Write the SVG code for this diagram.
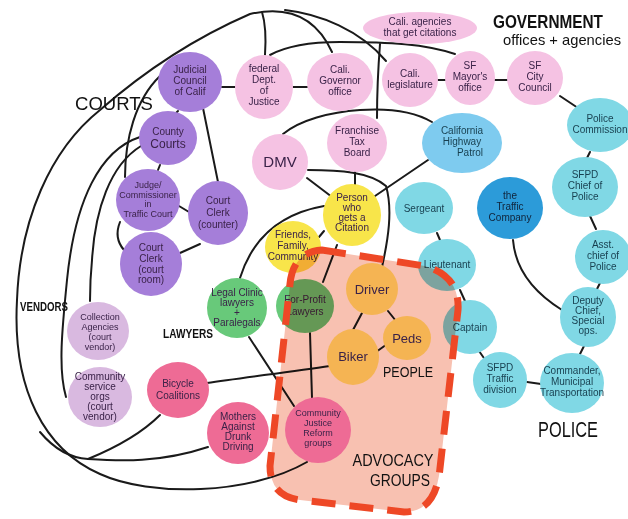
<svg xmlns="http://www.w3.org/2000/svg" width="628" height="519" viewBox="0 0 628 519">
<style>
.bg{fill:#ffffff}
.c path{fill:none;stroke:#1a1a1a;stroke-width:2;stroke-linecap:round}
text{font-family:"Liberation Sans Narrow","Liberation Sans",Arial,sans-serif;text-anchor:middle}
.n text{font-size:10px;fill:#3a2248}
.p text{fill:#173f4f}
.crt{fill:#a57ed9}
.gov{fill:#f5c2e3}
.pol{fill:#80d8e5}
.chp{fill:#7ecbef}
.tc{fill:#2c9bd9}
.yel{fill:#f8e54a}
.grn{fill:#68c97a}
.org{fill:#f5b453}
.adv{fill:#ee6b95}
.ven{fill:#d9b9e0}
.lbl{font-size:18px;fill:#111;font-weight:bold}
.region{fill:#f8c1b1;mix-blend-mode:multiply}
.dash{fill:none;stroke:#ee4826;stroke-width:7;stroke-dasharray:24 14;stroke-linecap:butt}
</style>
<rect class="bg" width="628" height="519"/>
<g id="connectors" class="c">
<path d="M307,462 C250,495 150,497 100,474 C45,450 12,390 17,300 C20,220 50,150 100,110 C140,75 190,40 250,14 C285,6 315,15 332,52"/>
<path d="M262,12 C266,25 266,40 265,55"/>
<path d="M285,10 C320,14 360,30 386,61"/>
<path d="M270,55 C290,44 315,42 340,42 C390,42 425,44 455,54"/>
<path d="M380,44 C378,70 377,95 377,118"/>
<path d="M283,134 C300,120 330,112 360,110 C390,108 415,112 432,122"/>
<path d="M222,87 L235,87"/><path d="M293,87 L307,87"/>
<path d="M437,80 L446,80"/><path d="M495,80 L507,80"/>
<path d="M560,96 L578,108"/><path d="M590,152 L587,158"/>
<path d="M590,216 L596,229"/><path d="M600,283 L597,289"/>
<path d="M584,346 L580,354"/><path d="M527,382 L541,384"/>
<path d="M479,351 L486,361"/>
<path d="M513,240 C515,265 530,290 562,310"/>
<path d="M437,233 L440,240"/><path d="M460,290 L465,301"/>
<path d="M178,111 L176,113"/>
<path d="M203,108 L218,182"/>
<path d="M160,165 L158,170"/>
<path d="M179,206 L189,212"/>
<path d="M200,244 L180,253"/>
<path d="M120,222 C116,232 117,242 124,250"/>
<path d="M125,177 C125,140 135,100 160,76"/>
<path d="M140,137 C100,150 75,200 67,280 C62,330 58,370 66,397"/>
<path d="M141,146 C110,165 95,210 92,260 C90,280 90,292 90,301"/>
<path d="M40,432 C55,450 70,458 88,459 C120,461 160,463 208,447"/>
<path d="M88,459 C110,450 140,435 160,415"/>
<path d="M307,178 L332,197"/>
<path d="M308,170 C340,170 370,172 386,186 C393,210 388,240 382,267"/>
<path d="M355,172 L355,185"/>
<path d="M428,160 L375,196"/>
<path d="M324,231 L319,237"/>
<path d="M337,245 L323,282"/>
<path d="M324,206 C290,212 255,230 240,278"/>
<path d="M362,313 L353,330"/>
<path d="M388,311 L396,321"/>
<path d="M376,352 L390,342"/>
<path d="M330,366 C290,372 240,378 207,383"/>
<path d="M310,333 L312,398"/>
<path d="M249,337 L294,406"/>
</g>
<g id="n-judicial" class="n"><ellipse class="crt" cx="190" cy="82" rx="32" ry="30"/><text x="190" y="73">Judicial<tspan x="190" dy="11">Council</tspan><tspan x="190" dy="11">of Calif</tspan></text></g>
<g id="n-federal" class="n"><ellipse class="gov" cx="264" cy="87" rx="29" ry="32"/><text x="264" y="72">federal<tspan x="264" dy="11">Dept.</tspan><tspan x="264" dy="11">of</tspan><tspan x="264" dy="11">Justice</tspan></text></g>
<g id="n-governor" class="n"><ellipse class="gov" cx="340" cy="82" rx="33" ry="29"/><text x="340" y="73">Cali.<tspan x="340" dy="11">Governor</tspan><tspan x="340" dy="11">office</tspan></text></g>
<g id="n-legislature" class="n"><ellipse class="gov" cx="410" cy="80" rx="28" ry="27"/><text x="410" y="77">Cali.<tspan x="410" dy="11">legislature</tspan></text></g>
<g id="n-mayor" class="n"><ellipse class="gov" cx="470" cy="78" rx="25" ry="27"/><text x="470" y="69">SF<tspan x="470" dy="11">Mayor's</tspan><tspan x="470" dy="11">office</tspan></text></g>
<g id="n-council" class="n"><ellipse class="gov" cx="535" cy="78" rx="28" ry="27"/><text x="535" y="69">SF<tspan x="535" dy="11">City</tspan><tspan x="535" dy="11">Council</tspan></text></g>
<g id="n-agencies" class="n"><ellipse class="gov" cx="420" cy="28" rx="57" ry="16"/><text x="420" y="25">Cali. agencies<tspan x="420" dy="11">that get citations</tspan></text></g>
<g id="n-franchise" class="n"><ellipse class="gov" cx="357" cy="143" rx="30" ry="29"/><text x="357" y="134">Franchise<tspan x="357" dy="11">Tax</tspan><tspan x="357" dy="11">Board</tspan></text></g>
<g id="n-dmv" class="n"><ellipse class="gov" cx="280" cy="162" rx="28" ry="28"/><text x="280" y="167" style="font-size:15px">DMV</text></g>
<g id="n-chp" class="n p"><ellipse class="chp" cx="462" cy="143" rx="40" ry="30"/><text x="462" y="134">California<tspan x="462" dy="11">Highway</tspan><tspan x="470" dy="11">Patrol</tspan></text></g>
<g id="n-commission" class="n p"><ellipse class="pol" cx="600" cy="125" rx="33" ry="27"/><text x="600" y="122">Police<tspan x="600" dy="11">Commission</tspan></text></g>
<g id="n-chief" class="n p"><ellipse class="pol" cx="585" cy="187" rx="33" ry="30"/><text x="585" y="178">SFPD<tspan x="585" dy="11">Chief of</tspan><tspan x="585" dy="11">Police</tspan></text></g>
<g id="n-asst" class="n p"><ellipse class="pol" cx="603" cy="257" rx="28" ry="27"/><text x="603" y="248">Asst.<tspan x="603" dy="11">chief of</tspan><tspan x="603" dy="11">Police</tspan></text></g>
<g id="n-deputy" class="n p"><ellipse class="pol" cx="588" cy="317" rx="28" ry="30"/><text x="588" y="304">Deputy<tspan x="588" dy="10">Chief,</tspan><tspan x="588" dy="10">Special</tspan><tspan x="588" dy="10">ops.</tspan></text></g>
<g id="n-commander" class="n p"><ellipse class="pol" cx="572" cy="383" rx="32" ry="30"/><text x="572" y="374">Commander,<tspan x="572" dy="11">Municipal</tspan><tspan x="572" dy="11">Transportation</tspan></text></g>
<g id="n-trafficdiv" class="n p"><ellipse class="pol" cx="500" cy="380" rx="27" ry="28"/><text x="500" y="371">SFPD<tspan x="500" dy="11">Traffic</tspan><tspan x="500" dy="11">division</tspan></text></g>
<g id="n-trafficco" class="n"><ellipse class="tc" cx="510" cy="208" rx="33" ry="31"/><text x="510" y="199" style="fill:#10233a">the<tspan x="510" dy="11">Traffic</tspan><tspan x="510" dy="11">Company</tspan></text></g>
<g id="n-sergeant" class="n p"><ellipse class="pol" cx="424" cy="208" rx="29" ry="26"/><text x="424" y="212">Sergeant</text></g>
<g id="n-lieutenant" class="n p"><ellipse class="pol" cx="447" cy="265" rx="29" ry="26"/><text x="447" y="268">Lieutenant</text></g>
<g id="n-captain" class="n p"><ellipse class="pol" cx="470" cy="327" rx="27" ry="27"/><text x="470" y="331">Captain</text></g>
<g id="n-person" class="n"><ellipse class="yel" cx="352" cy="215" rx="29" ry="31"/><text x="352" y="201">Person<tspan x="352" dy="10">who</tspan><tspan x="352" dy="10">gets a</tspan><tspan x="352" dy="10">Citation</tspan></text></g>
<g id="n-friends" class="n"><ellipse class="yel" cx="293" cy="247" rx="28" ry="26"/><text x="293" y="238">Friends,<tspan x="293" dy="11">Family,</tspan><tspan x="293" dy="11">Community</tspan></text></g>
<g id="n-legal" class="n"><ellipse class="grn" cx="237" cy="308" rx="30" ry="30"/><text x="237" y="296">Legal Clinic<tspan x="237" dy="10">lawyers</tspan><tspan x="237" dy="10">+</tspan><tspan x="237" dy="10">Paralegals</tspan></text></g>
<g id="n-forprofit" class="n"><ellipse class="grn" cx="305" cy="306" rx="29" ry="27"/><text x="305" y="303">For-Profit<tspan x="305" dy="12">Lawyers</tspan></text></g>
<g id="n-judge" class="n"><ellipse class="crt" cx="148" cy="200" rx="32" ry="31"/><text x="148" y="188" style="font-size:9px">Judge/<tspan x="148" dy="10">Commissioner</tspan><tspan x="148" dy="9">in</tspan><tspan x="148" dy="10">Traffic Court</tspan></text></g>
<g id="n-county" class="n"><ellipse class="crt" cx="168" cy="138" rx="29" ry="27"/><text x="168" y="135">County<tspan x="168" dy="13" style="font-size:12px">Courts</tspan></text></g>
<g id="n-clerkcounter" class="n"><ellipse class="crt" cx="218" cy="213" rx="30" ry="32"/><text x="218" y="204">Court<tspan x="218" dy="12">Clerk</tspan><tspan x="218" dy="12">(counter)</tspan></text></g>
<g id="n-clerkroom" class="n"><ellipse class="crt" cx="151" cy="264" rx="31" ry="32"/><text x="151" y="251">Court<tspan x="151" dy="11">Clerk</tspan><tspan x="151" dy="11">(court</tspan><tspan x="151" dy="10">room)</tspan></text></g>
<g id="n-collection" class="n"><ellipse class="ven" cx="98" cy="331" rx="31" ry="29"/><text x="100" y="320" style="font-size:9px">Collection<tspan x="100" dy="10">Agencies</tspan><tspan x="100" dy="10">(court</tspan><tspan x="100" dy="10">vendor)</tspan></text></g>
<g id="n-service" class="n"><ellipse class="ven" cx="100" cy="397" rx="32" ry="30"/><text x="100" y="380">Community<tspan x="100" dy="10">service</tspan><tspan x="100" dy="10">orgs</tspan><tspan x="100" dy="10">(court</tspan><tspan x="100" dy="10">vendor)</tspan></text></g>
<g id="n-bicycle" class="n"><ellipse class="adv" cx="178" cy="390" rx="31" ry="28"/><text x="178" y="387">Bicycle<tspan x="178" dy="12">Coalitions</tspan></text></g>
<g id="n-madd" class="n"><ellipse class="adv" cx="238" cy="433" rx="31" ry="31"/><text x="238" y="420">Mothers<tspan x="238" dy="10">Against</tspan><tspan x="238" dy="10">Drunk</tspan><tspan x="238" dy="10">Driving</tspan></text></g>
<path id="region" class="region" d="M322,250 L425,266 Q460,276 458,310 L440,468 Q436,512 404,512 L300,500 Q270,496 270,466 L290,284 Q293,252 322,250 Z"/>
<g id="n-driver" class="n"><ellipse class="org" cx="372" cy="289" rx="26" ry="26"/><text x="372" y="294" style="font-size:13px">Driver</text></g>
<g id="n-peds" class="n"><ellipse class="org" cx="407" cy="338" rx="24" ry="22"/><text x="407" y="343" style="font-size:13px">Peds</text></g>
<g id="n-biker" class="n"><ellipse class="org" cx="353" cy="357" rx="26" ry="28"/><text x="353" y="361" style="font-size:13px">Biker</text></g>
<g id="n-community" class="n"><ellipse class="adv" cx="318" cy="430" rx="33" ry="33"/><text x="318" y="416" style="font-size:9px">Community<tspan x="318" dy="10">Justice</tspan><tspan x="318" dy="10">Reform</tspan><tspan x="318" dy="10">groups</tspan></text></g>
<path id="region-border" class="dash" d="M322,250 L425,266 Q460,276 458,310 L440,468 Q436,512 404,512 L300,500 Q270,496 270,466 L290,284 Q293,252 322,250 Z"/>
<g id="labels">
<text class="lbl" x="114" y="110" style="font-size:19px;font-weight:normal" textLength="78" lengthAdjust="spacingAndGlyphs">COURTS</text>
<text class="lbl" x="548" y="28" textLength="110" lengthAdjust="spacingAndGlyphs">GOVERNMENT</text>
<text class="lbl" x="562" y="45" style="font-size:15px;font-weight:normal" textLength="118" lengthAdjust="spacingAndGlyphs">offices + agencies</text>
<text class="lbl" x="44" y="311" style="font-size:13px" textLength="48" lengthAdjust="spacingAndGlyphs">VENDORS</text>
<text class="lbl" x="188" y="338" style="font-size:13px" textLength="50" lengthAdjust="spacingAndGlyphs">LAWYERS</text>
<text class="lbl" x="408" y="377" style="font-size:14px;font-weight:normal" textLength="50" lengthAdjust="spacingAndGlyphs">PEOPLE</text>
<text class="lbl" x="568" y="437" style="font-size:22px;font-weight:normal" textLength="60" lengthAdjust="spacingAndGlyphs">POLICE</text>
<text class="lbl" x="393" y="466" style="font-size:16px;font-weight:normal" textLength="81" lengthAdjust="spacingAndGlyphs">ADVOCACY</text>
<text class="lbl" x="400" y="486" style="font-size:16px;font-weight:normal" textLength="60" lengthAdjust="spacingAndGlyphs">GROUPS</text>
</g>
</svg>
